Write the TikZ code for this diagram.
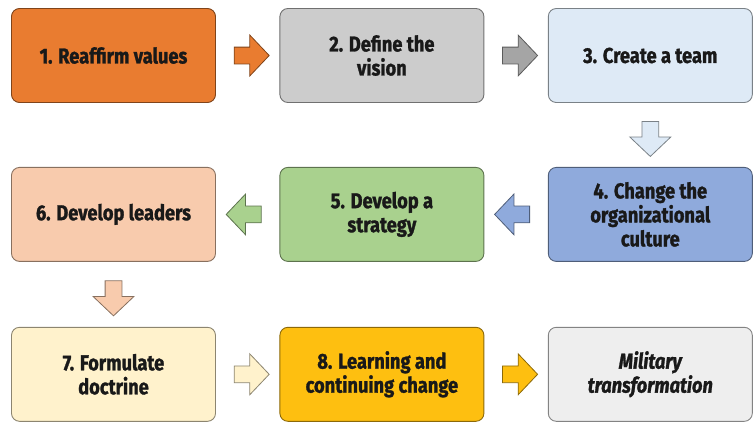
\documentclass[tikz,border=0pt]{standalone}
\usepackage{fontspec}
\setmainfont[FakeStretch=0.85, BoldFeatures={FakeBold=1.3}, BoldItalicFeatures={FakeBold=1.3}]{Fira Sans}
\usetikzlibrary{positioning,shapes.arrows,calc}
\definecolor{stepOrange}{HTML}{E97C30}
\definecolor{stepGray}{HTML}{CCCCCC}
\definecolor{arrGray}{HTML}{A5A5A5}
\definecolor{stepSky}{HTML}{DEEAF6}
\definecolor{stepBlue}{HTML}{8FAADC}
\definecolor{stepGreen}{HTML}{A9D18E}
\definecolor{stepPeach}{HTML}{F8CBAD}
\definecolor{stepCream}{HTML}{FFF2CC}
\definecolor{stepGold}{HTML}{FEBF10}
\definecolor{stepPale}{HTML}{EEEEEE}

\begin{document}
\begin{tikzpicture}
   [x=1pt,y=1pt,
    node distance=64pt and 63.5pt,
    stepbox/.style={draw=#1!55!black, fill=#1, line width=0.9pt, rounded corners=8pt,
           minimum width=204pt, minimum height=94pt, align=center, text=black!90,
           font=\fontsize{21.5}{24}\selectfont\bfseries},
    blockarrow/.style={single arrow, draw=#1!55!black, fill=#1, line width=0.8pt,
           minimum height=35pt, minimum width=40pt, single arrow head extend=12pt,
           single arrow tip angle=93, inner xsep=0pt, inner ysep=8pt}]
\useasboundingbox (0,0) rectangle (754,-424);

\node[stepbox=stepOrange] (reaffirm) at (113.5,-55.5) {1. Reaffirm values};
\node[stepbox=stepGray, right=of reaffirm] (vision) {2. Define the\\vision};
\node[stepbox=stepSky, right=of vision] (team) {3. Create a team};
\node[stepbox=stepBlue, below=of team] (culture) {4. Change the\\organizational\\culture};
\node[stepbox=stepGreen, left=of culture] (strategy) {5. Develop a\\strategy};
\node[stepbox=stepPeach, left=of strategy] (leaders) {6. Develop leaders};
\node[stepbox=stepCream, below=65pt of leaders] (doctrine) {7. Formulate\\doctrine};
\node[stepbox=stepGold, right=of doctrine] (learning) {8. Learning and\\continuing change};
\node[stepbox=stepPale, right=of learning, font=\fontsize{21.5}{24}\selectfont\bfseries\itshape] (military) {Military\\transformation};

\node[blockarrow=stepOrange] (a1) at ($(reaffirm.east)!0.5!(vision.west)$) {};
\node[blockarrow=arrGray] (a2) at ($(vision.east)!0.5!(team.west)$) {};
\node[blockarrow=stepSky, rotate=-90] (a3) at ($(team.south)!0.5!(culture.north)$) {};
\node[blockarrow=stepBlue, rotate=180] (a4) at ($(culture.west)!0.5!(strategy.east)$) {};
\node[blockarrow=stepGreen, rotate=180] (a5) at ($(strategy.west)!0.5!(leaders.east)$) {};
\node[blockarrow=stepPeach, rotate=-90] (a6) at ($(leaders.south)!0.5!(doctrine.north)$) {};
\node[blockarrow=stepCream] (a7) at ($(doctrine.east)!0.5!(learning.west)$) {};
\node[blockarrow=stepGold] (a8) at ($(learning.east)!0.5!(military.west)$) {};
\end{tikzpicture}
\end{document}
